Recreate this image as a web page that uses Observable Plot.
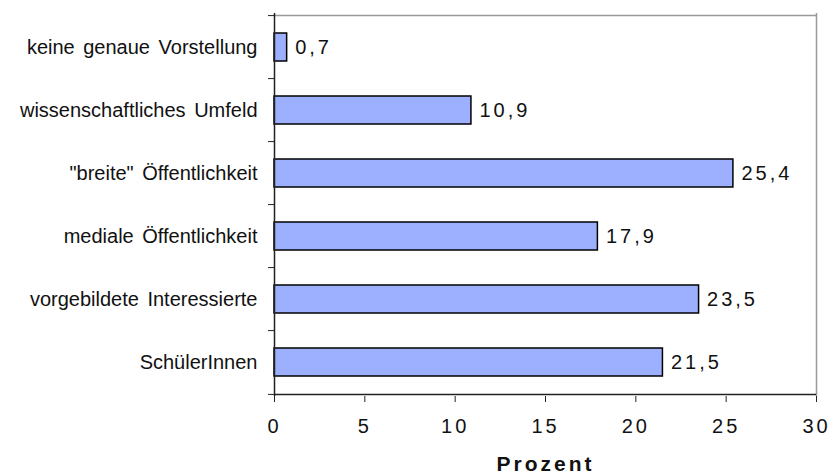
<!DOCTYPE html>
<html>
<head>
<meta charset="utf-8">
<script src="https://cdn.jsdelivr.net/npm/d3@7"></script>
<script src="https://cdn.jsdelivr.net/npm/@observablehq/plot@0.6"></script>
<style>
  html, body { margin: 0; padding: 0; background: #fff; }
  #chart { width: 831px; height: 475px; }
</style>
</head>
<body>
<div id="chart"></div>
<script>
const categories = ["keine genaue Vorstellung", "wissenschaftliches Umfeld", "\"breite\" Öffentlichkeit", "mediale Öffentlichkeit", "vorgebildete Interessierte", "SchülerInnen"];
const values = [0.7, 10.9, 25.4, 17.9, 23.5, 21.5];
const xTicks = [0, 5, 10, 15, 20, 25, 30];
const xLabel = "Prozent";

const data = categories.map((c, i) => ({cat: c, value: values[i]}));
const fmt = v => v.toFixed(1).replace(".", ",");

const W = 831, H = 475, mt = 13, mb = 79, ml = 274, mr = 15;
const step = (H - mt - mb) / categories.length;

const plot = Plot.plot({
  width: W, height: H,
  marginTop: mt, marginBottom: mb, marginLeft: ml, marginRight: mr,
  style: {fontFamily: "'Liberation Sans', Arial, sans-serif", color: "#111", background: "#fff"},
  x: {domain: [0, 30]},
  y: {domain: categories, paddingInner: 0.56, paddingOuter: 0.28},
  marks: [
    Plot.ruleX([30], {stroke: "#999", strokeWidth: 1.5}),
    Plot.ruleY([categories[0]], {x1: 0, x2: 30, dy: -step / 2, stroke: "#999", strokeWidth: 1.5}),
    Plot.barX(data, {x: "value", y: "cat", fill: "#9db0ff", stroke: "#000", strokeWidth: 1.5}),
    Plot.text(data, {x: "value", y: "cat", text: d => fmt(d.value), dx: 8, textAnchor: "start", fontSize: 20, fill: "#111"}),
    Plot.ruleY(categories, {y: d => d, x1: 0, x2: 0, insetLeft: -6, dy: -step / 2, stroke: "#222", strokeWidth: 1}),
    Plot.ruleY([categories[categories.length - 1]], {x1: 0, x2: 0, insetLeft: -6, dy: step / 2, stroke: "#222", strokeWidth: 1}),
    Plot.ruleX([0], {stroke: "#222", strokeWidth: 1.5}),
    Plot.ruleY([categories[categories.length - 1]], {x1: 0, x2: 30, dy: step / 2, stroke: "#222", strokeWidth: 1.5}),
    Plot.axisX(xTicks, {tickSize: 6, tickPadding: 16, fontSize: 20, stroke: "#222", label: null}),
    Plot.axisY({tickSize: 0, tickPadding: 17, fontSize: 20, label: null}),
    Plot.text([xLabel], {frameAnchor: "bottom", dy: 74, text: d => d, fontSize: 21, fontWeight: "bold", fill: "#111"})
  ]
});
document.getElementById("chart").appendChild(plot);
d3.select(plot).selectAll("g[aria-label='text'] text").style("letter-spacing", "3px");
d3.select(plot).selectAll("g[aria-label='x-axis tick label'] text").style("letter-spacing", "3px");
d3.select(plot).selectAll("g[aria-label='y-axis tick label'] text").style("word-spacing", "3px");
</script>
</body>
</html>
